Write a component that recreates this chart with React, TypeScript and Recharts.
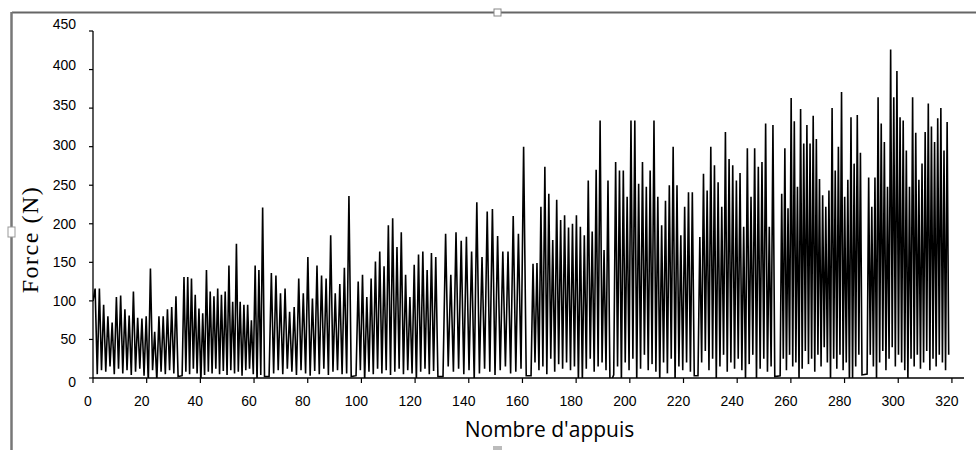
import React from 'react';
import { LineChart, Line, XAxis, YAxis, Label } from 'recharts';

// ten series of presses, each one separated by a short rest on the axis
const blockStart = [0, 33.2, 65.6, 98, 130.4, 163.2, 194, 225.4, 256, 288.4];
const blockEnd = [31.7, 63.9, 96.2, 128.5, 161.4, 192.6, 224, 254, 286.5, 318.8];

// peak force of each press (N)
const peaks1 = [116, 116, 95, 80, 72, 105, 107, 89, 81, 112, 78, 77, 80, 142, 60, 80, 80, 89, 92, 106];
const peaks2 = [131, 131, 129, 108, 90, 84, 140, 112, 106, 116, 108, 112, 146, 99, 174, 99, 95, 95, 75, 146, 140, 221];
const peaks3 = [136, 133, 110, 116, 86, 92, 129, 110, 157, 103, 146, 133, 129, 185, 110, 122, 143, 236];
const peaks4 = [125, 134, 105, 129, 151, 164, 145, 198, 207, 170, 189, 134, 105, 147, 160, 164, 140, 162, 157];
const peaks5 = [187, 134, 189, 178, 183, 164, 228, 157, 216, 219, 184, 164, 164, 210, 187, 300];
const peaks6 = [148, 149, 222, 274, 239, 179, 231, 205, 211, 195, 200, 211, 196, 185, 256, 190, 270, 334, 166, 256];
const peaks7 = [280, 269, 269, 235, 334, 334, 252, 280, 248, 269, 334, 235, 198, 230, 250, 300, 250, 185, 222, 241, 241];
const peaks8 = [183, 265, 243, 300, 276, 254, 222, 319, 284, 276, 256, 266, 196, 298, 235, 298, 274, 280, 330, 196, 328];
const peaks9 = [239, 298, 220, 363, 333, 248, 349, 304, 328, 304, 340, 310, 258, 237, 222, 243, 350, 269, 300, 371, 235, 257, 338, 278, 341, 292];
const peaks10 = [260, 222, 260, 364, 330, 306, 248, 426, 364, 398, 338, 334, 295, 248, 364, 318, 257, 278, 319, 356, 326, 306, 337, 350, 295, 332];

// force between two presses (N)
const dips1 = [100, 5, 10, 8, 15, 5, 12, 6, 10, 4, 8, 12, 3, -6, 10, -4, 8, 5, 10, 6, 2];
const dips2 = [3, 8, 5, 12, 6, -5, 4, 8, 6, 12, 5, 9, 4, 10, 6, 8, 3, 10, 12, 5, -6, 4, 2];
const dips3 = [2, 6, 10, 5, 12, 8, 4, 10, 6, 3, 9, 5, 12, 4, 8, 10, 5, 6, 2];
const dips4 = [3, 10, -4, 8, 5, 12, 6, 10, 4, 8, 12, 5, 10, 6, -4, 8, 12, 5, 9, 2];
const dips5 = [2, 15, 8, 12, 5, 10, -3, 6, 12, 8, 4, 10, 15, 6, 8, 12, 3];
const dips6 = [3, 20, 10, 15, 5, 25, 8, 18, 12, 20, 10, 15, -6, -5, 12, 25, 8, 15, 20, 10, -8];
const dips7 = [4, 15, -5, 20, 10, 25, -6, 12, 30, 10, 18, 8, -5, 20, 6, 25, -6, 15, 10, 20, 8, 3];
const dips8 = [3, 20, 35, 10, 25, -5, 15, 30, 8, 20, 12, 25, 10, -5, 18, 30, -6, 12, 25, 8, 15, 2];
const dips9 = [3, 25, 10, 30, 15, 20, -5, 12, 35, 18, 25, 8, 30, 15, 40, 20, -6, 25, 12, 30, 10, 20, -8, -5, 15, 30, 4];
const dips10 = [5, 30, 15, -5, 20, 35, 10, 25, 40, 15, 30, 20, 10, -5, 25, 15, 30, 12, 20, 35, 10, 25, 15, 30, 20, 10, 30];

const xTicks = [0, 20, 40, 60, 80, 100, 120, 140, 160, 180, 200, 220, 240, 260, 280, 300, 320];
const yTicks = [0, 50, 100, 150, 200, 250, 300, 350, 400, 450];

const peakBlocks = [peaks1, peaks2, peaks3, peaks4, peaks5, peaks6, peaks7, peaks8, peaks9, peaks10];
const dipBlocks = [dips1, dips2, dips3, dips4, dips5, dips6, dips7, dips8, dips9, dips10];

const buildData = () => {
  const rows: { x: number; force: number }[] = [];
  peakBlocks.forEach((peaks, b) => {
    const step = (blockEnd[b] - blockStart[b]) / peaks.length;
    dipBlocks[b].forEach((d, i) => {
      rows.push({ x: blockStart[b] + i * step, force: d });
      if (i < peaks.length) rows.push({ x: blockStart[b] + (i + 0.5) * step, force: peaks[i] });
    });
  });
  return rows;
};

const data = buildData();

const tickFont = '"Liberation Sans", Arial, sans-serif';

const XTick: React.FC<any> = ({ x, y, payload }) => (
  <text x={x - 5} y={y} dy="0.71em" textAnchor="middle" fontFamily={tickFont} fontSize={14} fill="#000">
    {payload.value}
  </text>
);

// the upper labels sit a little above their ticks in the original, "0" a little below
const YTick: React.FC<any> = ({ x, y, payload }) => {
  const v = payload.value;
  const shift = v > 250 ? -(v - 250) / 30 : v === 0 ? 4 : 0;
  return (
    <text x={x} y={y + shift} dy="0.355em" textAnchor="end" fontFamily={tickFont} fontSize={14} fill="#000">
      {v}
    </text>
  );
};

const XTitle: React.FC<any> = ({ viewBox }) => (
  <text
    x={viewBox.x + viewBox.width / 2 + 21}
    y={viewBox.y + 59}
    textAnchor="middle"
    fontFamily='"Open Sans", sans-serif'
    fontSize={21}
    fill="#000"
  >
    Nombre d'appuis
  </text>
);

const YTitle: React.FC<any> = ({ viewBox }) => {
  const cy = viewBox.y + viewBox.height / 2 + 35;
  return (
    <text
      transform={`translate(30, ${cy}) rotate(-90)`}
      textAnchor="middle"
      dominantBaseline="central"
      fontFamily='"Liberation Serif", "Times New Roman", serif'
      fontSize={24}
      letterSpacing={1.5}
      fill="#000"
    >
      Force (N)
    </text>
  );
};

const Frame = () => (
  <svg width={976} height={450} style={{ position: 'absolute', left: 0, top: 0, pointerEvents: 'none' }}>
    <line x1={12} y1={12.5} x2={976} y2={12.5} stroke="#666" strokeWidth={2} />
    <line x1={11.5} y1={12} x2={11.5} y2={450} stroke="#777" strokeWidth={2.5} />
    <rect x={494} y={9} width={7} height={7} fill="#fff" stroke="#888" strokeWidth={1} />
    <rect x={8} y={227} width={7} height={10} fill="#fff" stroke="#999" strokeWidth={1} />
    <rect x={493} y={446} width={9} height={4} fill="#bbb" />
  </svg>
);

const App: React.FC = () => (
  <div style={{ position: 'absolute', left: 0, top: 0, width: 976, height: 450, background: '#fff' }}>
    <LineChart width={976} height={450} data={data} margin={{ top: 31, right: 12, bottom: 0, left: 0 }}>
      <XAxis
        type="number"
        dataKey="x"
        domain={[0, 324.5]}
        ticks={xTicks}
        allowDataOverflow
        height={72}
        tickSize={5}
        tickMargin={13}
        tick={<XTick />}
        axisLine={{ stroke: '#000', strokeWidth: 1.3 }}
        tickLine={{ stroke: '#000', strokeWidth: 1.2 }}
      >
        <Label content={<XTitle />} />
      </XAxis>
      <YAxis
        type="number"
        domain={[0, 450]}
        ticks={yTicks}
        allowDataOverflow
        width={93}
        tickSize={4}
        tickMargin={13}
        tick={<YTick />}
        axisLine={{ stroke: '#000', strokeWidth: 1.3 }}
        tickLine={{ stroke: '#000', strokeWidth: 1.2 }}
      >
        <Label content={<YTitle />} />
      </YAxis>
      <Line
        type="linear"
        dataKey="force"
        stroke="#000"
        strokeWidth={1.6}
        dot={false}
        isAnimationActive={false}
      />
    </LineChart>
    <Frame />
  </div>
);

export default App;
